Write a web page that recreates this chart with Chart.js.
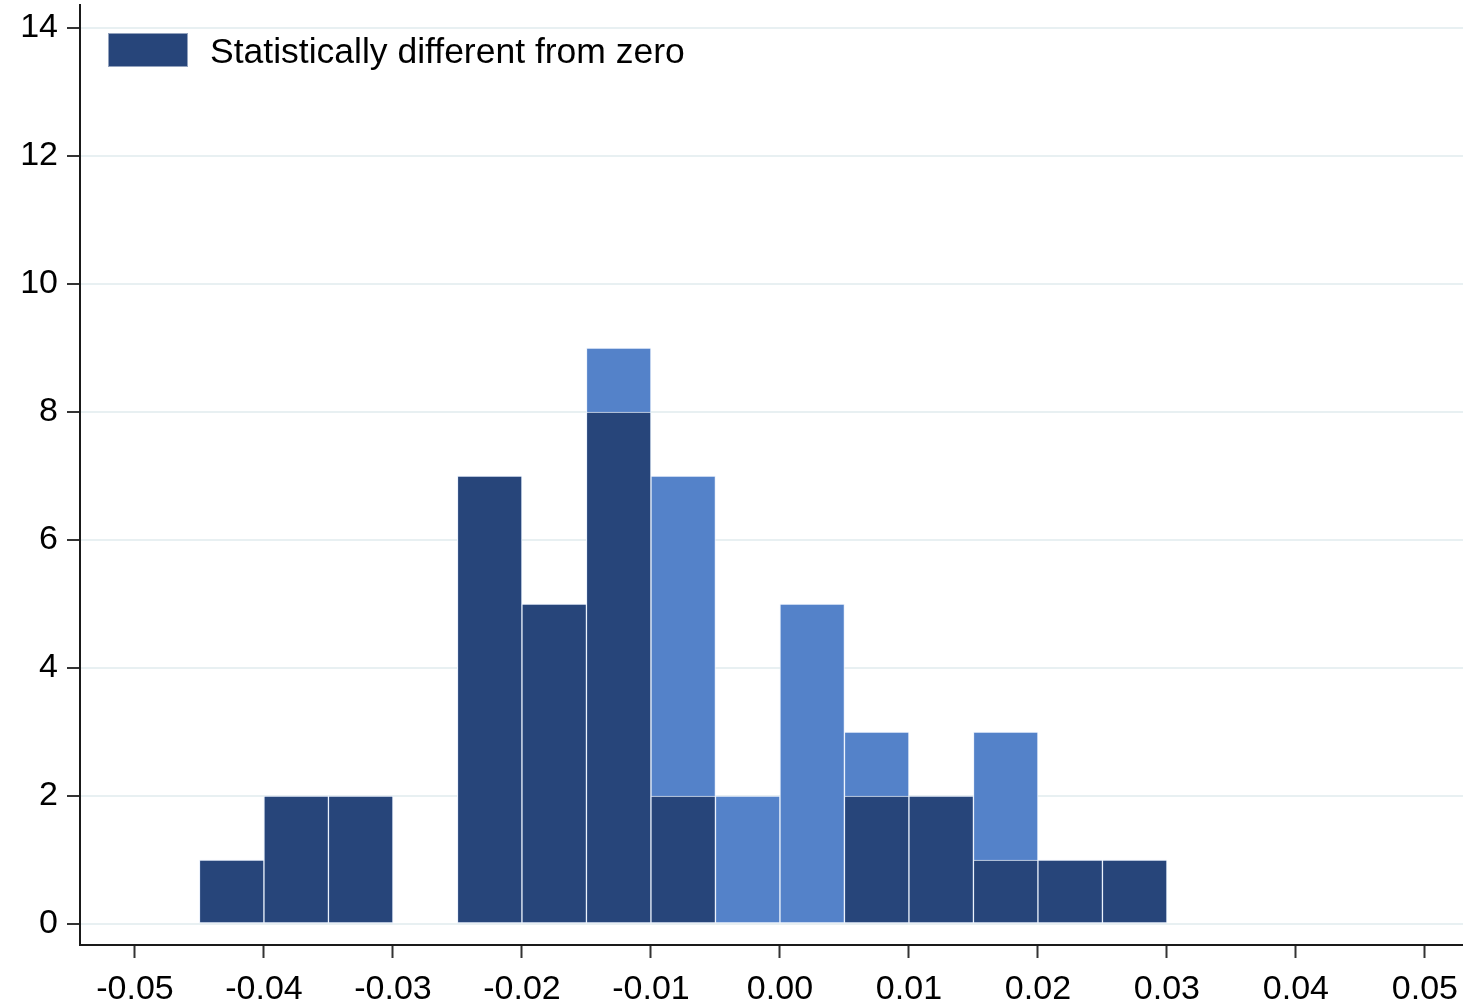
<!DOCTYPE html>
<html>
<head>
<meta charset="utf-8">
<script src="https://cdn.jsdelivr.net/npm/chart.js@4.4.1/dist/chart.umd.min.js"></script>
<style>
  html, body { margin: 0; padding: 0; background: #fff; }
  #wrap { width: 1463px; height: 1003px; position: relative; }
</style>
</head>
<body>
<div id="wrap"><canvas id="hist"></canvas></div>
<script>
// histogram bins (centres, width 0.005)
const binCenters = [-0.0425, -0.0375, -0.0325, -0.0275, -0.0225, -0.0175, -0.0125, -0.0075,
                    -0.0025, 0.0025, 0.0075, 0.0125, 0.0175, 0.0225, 0.0275];
const allCounts = [1, 2, 2, 0, 7, 5, 9, 7, 2, 5, 3, 2, 3, 1, 1];
const sigCounts = [1, 2, 2, 0, 7, 5, 8, 2, 0, 0, 2, 2, 1, 1, 1];
const xTicks = [-0.05, -0.04, -0.03, -0.02, -0.01, 0, 0.01, 0.02, 0.03, 0.04, 0.05];
const xTickLabels = ['-0.05', '-0.04', '-0.03', '-0.02', '-0.01', '0.00', '0.01', '0.02', '0.03', '0.04', '0.05'];
const yTicks = [0, 2, 4, 6, 8, 10, 12, 14];

const DARK = '#27457A';
const LIGHT = '#5482C9';
const FONT = "'Liberation Sans', Arial, sans-serif";

const insideLegend = {
    id: 'insideLegend',
    afterDraw(chart) {
        const ctx = chart.ctx;
        const ds = chart.data.datasets[0];
        ctx.save();
        ctx.fillStyle = ds.backgroundColor;
        ctx.fillRect(108, 33, 80, 34);
        ctx.strokeStyle = 'rgba(255,255,255,0.5)';
        ctx.lineWidth = 1;
        ctx.strokeRect(108.5, 33.5, 79, 33);
        ctx.fillStyle = '#000';
        ctx.font = '35.5px ' + FONT;
        ctx.textBaseline = 'middle';
        ctx.fillText(ds.label, 210, 53);
        ctx.restore();
    }
};

new Chart(document.getElementById('hist'), {
    type: 'bar',
    data: {
        datasets: [{
            label: 'Statistically different from zero',
            data: binCenters.map((c, i) => ({x: c, y: sigCounts[i]})),
            backgroundColor: DARK,
            borderColor: 'rgba(235,242,252,0.9)',
            borderWidth: 1,
            borderSkipped: false,
            grouped: false,
            barPercentage: 1,
            categoryPercentage: 1
        }, {
            label: 'All',
            data: binCenters.map((c, i) => ({x: c, y: allCounts[i]})),
            backgroundColor: LIGHT,
            borderColor: 'rgba(235,242,252,0.9)',
            borderWidth: 1,
            borderSkipped: false,
            grouped: false,
            barPercentage: 1,
            categoryPercentage: 1
        }]
    },
    options: {
        responsive: true,
        maintainAspectRatio: false,
        animation: false,
        layout: {padding: {top: 5, right: 0, left: 0, bottom: 0}},
        plugins: {
            legend: {display: false},
            tooltip: {enabled: false}
        },
        scales: {
            x: {
                type: 'linear',
                min: -0.05426,
                max: 0.05295,
                offset: false,
                afterBuildTicks: (axis) => { axis.ticks = xTicks.map(v => ({value: v})); },
                afterFit: (axis) => { axis.height = 58; axis.paddingLeft = 0; axis.paddingRight = 0; },
                grid: {
                    offset: false,
                    drawOnChartArea: false,
                    drawTicks: true,
                    tickLength: 13,
                    tickWidth: 2,
                    tickColor: '#333'
                },
                border: {display: true, color: '#1a1a1a', width: 2},
                ticks: {
                    autoSkip: false,
                    maxRotation: 0,
                    padding: 11,
                    color: '#000',
                    font: {family: FONT, size: 34},
                    callback: (v, i) => xTickLabels[i]
                }
            },
            y: {
                type: 'linear',
                min: -0.328,
                max: 14.36,
                afterBuildTicks: (axis) => { axis.ticks = yTicks.map(v => ({value: v})); },
                afterFit: (axis) => { axis.width = 80; axis.paddingTop = 0; axis.paddingBottom = 0; },
                grid: {
                    color: '#E8F0F2',
                    lineWidth: 2,
                    drawTicks: true,
                    tickLength: 13,
                    tickWidth: 2,
                    tickColor: '#333'
                },
                border: {display: true, color: '#1a1a1a', width: 2},
                ticks: {
                    padding: 9,
                    color: '#000',
                    font: {family: FONT, size: 34},
                    callback: (v) => String(v)
                }
            }
        }
    },
    plugins: [insideLegend]
});
</script>
</body>
</html>
